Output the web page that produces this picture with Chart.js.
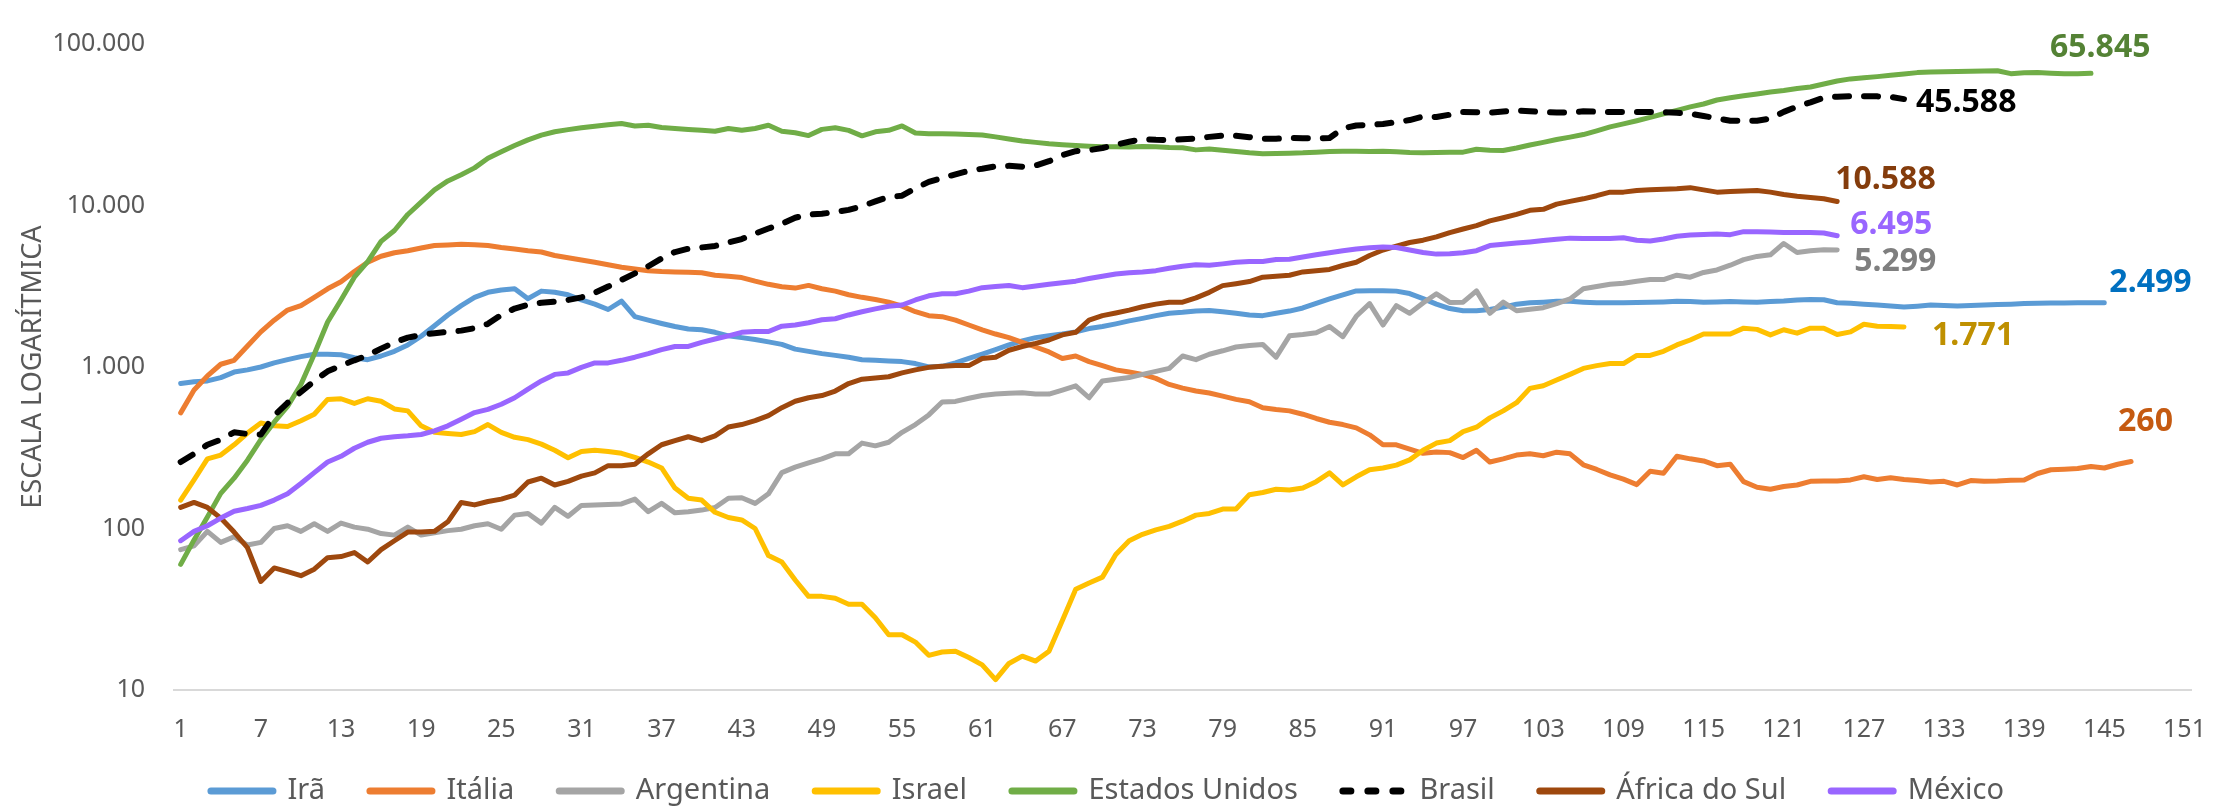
<!DOCTYPE html>
<html><head><meta charset="utf-8">
<script src="https://cdn.jsdelivr.net/npm/chart.js@4.4.1/dist/chart.umd.min.js"></script>
<style>html,body{margin:0;padding:0;background:#fff;}canvas{display:block;}</style>
</head><body>
<canvas id="c" width="2231" height="807"></canvas>
<script>
const FONT = '"Noto Sans", "Open Sans", sans-serif';

// categories (days 1..151) and tick labels
const categories = Array.from({length: 151}, (_, i) => String(i + 1));
const xTickLabels = ['1','7','13','19','25','31','37','43','49','55','61','67','73','79','85','91','97','103','109','115','121','127','133','139','145','151'];
const yTickValues = [10, 100, 1000, 10000, 100000];
const yTickLabels = ['10', '100', '1.000', '10.000', '100.000'];

const seriesNames = ['Irã','Itália','Argentina','Israel','Estados Unidos','Brasil','África do Sul','México'];

const iran = [790,810,820,860,930,960,1000,1060,1110,1160,
1200,1200,1190,1140,1110,1170,1250,1370,1550,1800,
2100,2400,2700,2900,3000,3050,2650,2950,2900,2800,
2600,2450,2270,2560,2050,1950,1860,1780,1720,1700,
1640,1560,1520,1480,1430,1380,1290,1250,1210,1180,
1150,1110,1100,1090,1080,1050,1000,1010,1060,1130,
1200,1280,1370,1450,1520,1560,1600,1650,1730,1780,
1850,1930,2000,2080,2150,2180,2220,2240,2200,2150,
2100,2080,2150,2220,2320,2480,2640,2800,2960,2970,
2970,2950,2850,2650,2450,2300,2230,2230,2270,2350,
2450,2500,2520,2550,2550,2520,2500,2500,2500,2510,
2520,2530,2550,2540,2520,2530,2540,2530,2520,2540,
2560,2600,2620,2610,2500,2480,2450,2420,2390,2350,
2380,2420,2400,2390,2400,2420,2440,2450,2470,2480,
2490,2490,2495,2498,2499];

const italia = [520,720,880,1040,1100,1350,1650,1950,2250,2400,
2700,3050,3370,3900,4450,4850,5100,5250,5450,5650,
5700,5750,5720,5650,5500,5380,5250,5150,4900,4750,
4600,4450,4300,4150,4050,3950,3900,3880,3860,3830,
3700,3650,3580,3400,3250,3140,3080,3200,3050,2950,
2800,2700,2620,2520,2380,2200,2080,2050,1950,1820,
1700,1600,1520,1420,1330,1240,1130,1170,1080,1020,
960,930,900,850,780,740,710,690,660,630,
610,560,545,535,510,480,455,440,420,380,
330,330,310,292,298,295,275,305,258,270,
285,290,282,297,290,248,232,215,202,187,
226,220,280,270,262,245,250,195,180,175,
182,186,196,197,197,200,209,201,206,201,
198,194,196,186,198,196,197,199,200,219,
231,233,235,242,237,250,260];

const argentina = [74,78,96,82,89,79,82,100,104,96,
107,96,108,102,99,93,91,102,91,94,
97,99,104,107,99,121,124,108,135,119,
139,140,141,142,152,127,143,125,127,130,
135,154,155,143,164,222,240,255,270,290,
290,338,325,342,394,440,505,607,612,640,
666,680,688,693,680,680,720,765,645,820,
840,860,900,940,980,1170,1110,1200,1260,1330,
1360,1380,1150,1560,1590,1630,1780,1540,2060,2470,
1820,2400,2150,2490,2840,2510,2520,2960,2150,2520,
2230,2280,2330,2470,2640,3050,3150,3250,3300,3400,
3480,3480,3700,3600,3850,3990,4270,4620,4840,4950,
5820,5120,5250,5320,5299];

const israel = [150,200,270,285,330,390,450,432,428,465,
510,630,636,595,636,614,550,535,432,394,
388,382,398,440,394,367,355,333,305,274,
300,305,300,292,276,258,237,178,154,150,
126,117,113,100,68,62,48,38,38,37,
34,34,28,22,22,19.8,16.4,17.2,17.4,15.9,
14.3,11.6,14.6,16.2,15.1,17.4,26.9,42,46,50,
69,84,92,98,103,111,121,124,132,132,
162,167,175,173,178,195,221,186,209,231,
237,247,266,305,338,350,398,424,484,535,
601,737,765,830,900,980,1020,1050,1050,1180,
1180,1250,1370,1470,1600,1600,1600,1740,1710,1580,
1700,1620,1740,1740,1590,1650,1840,1790,1780,1771];

const eua = [60,85,118,165,205,265,355,455,570,780,
1200,1900,2600,3600,4500,6000,7000,8800,10500,12500,
14200,15500,17100,19600,21500,23500,25500,27300,28600,29500,
30300,31000,31600,32200,31100,31400,30400,30000,29600,29200,
28800,30000,29200,30000,31400,28800,28200,27100,29600,30300,
29200,27000,28600,29200,31100,28100,27800,27800,27700,27500,
27300,26600,25800,25100,24600,24100,23800,23500,23300,23100,
23100,23000,23200,23100,22900,22800,22100,22400,22000,21600,
21200,20900,21000,21100,21200,21400,21600,21700,21700,21600,
21700,21500,21300,21200,21300,21400,21400,22300,22000,21900,
22700,23700,24600,25600,26500,27500,29000,30700,32000,33500,
35100,37000,38800,40800,42500,45000,46500,47800,49000,50400,
51500,53000,54200,56500,59000,60800,61800,62800,64000,65200,
66500,67000,67300,67600,67800,68000,68300,65500,66300,66600,
66000,65400,65500,65845];

const brasil = [258,290,330,355,394,385,382,500,600,700,
820,940,1020,1100,1180,1300,1420,1520,1580,1620,
1650,1680,1740,1850,2100,2300,2430,2500,2540,2600,
2700,2880,3150,3460,3800,4200,4700,5150,5400,5500,
5620,5900,6200,6700,7200,7700,8400,8800,8900,9100,
9400,9900,10600,11300,11500,12800,14000,14800,15600,16400,
16900,17500,17600,17400,17700,18800,20500,21700,22000,22700,
23800,24800,25800,25500,25400,25700,26000,26600,27100,27000,
26500,25900,25900,26200,26100,26000,26200,30000,31300,31600,
32000,32800,33800,35600,35300,36500,37900,37800,37600,38200,
38800,38400,37900,37700,37600,38300,38100,37900,37900,37900,
37900,37800,37500,37000,35800,34700,33500,33400,33500,34500,
38000,41000,43500,46500,47200,47500,47500,47400,47000,45588];

const africaSul = [135,145,135,116,95,76,47,57,54,51,
56,66,67,71,62,74,84,95,95,96,
110,145,140,147,152,161,194,205,186,196,
211,221,245,245,250,290,330,350,370,350,
375,425,440,465,500,560,614,645,666,710,
790,840,855,870,919,960,995,1010,1020,1020,
1130,1150,1270,1340,1400,1470,1580,1640,1950,2080,
2160,2250,2360,2450,2520,2520,2680,2900,3190,3280,
3380,3600,3650,3700,3880,3950,4020,4250,4450,4900,
5300,5600,5900,6100,6400,6800,7150,7500,8030,8400,
8810,9330,9470,10200,10600,11000,11500,12100,12100,12400,
12500,12600,12700,12900,12500,12100,12200,12300,12400,12100,
11700,11400,11200,11000,10588];

const mexico = [84,96,104,116,128,133,139,150,164,190,
222,258,280,314,342,362,370,375,382,402,
432,474,522,547,588,645,730,820,900,919,
995,1060,1060,1100,1150,1210,1280,1340,1340,1420,
1490,1560,1640,1660,1660,1790,1820,1880,1960,1990,
2100,2200,2290,2380,2420,2600,2760,2840,2840,2950,
3100,3150,3200,3100,3170,3250,3320,3400,3530,3650,
3770,3830,3880,3950,4090,4200,4290,4260,4350,4450,
4500,4500,4630,4650,4800,4950,5100,5250,5380,5480,
5530,5500,5300,5120,5000,5020,5100,5250,5650,5750,
5850,5950,6070,6180,6280,6250,6240,6240,6320,6100,
6030,6200,6450,6560,6620,6650,6600,6890,6890,6850,
6800,6800,6800,6750,6495];

const seriesData = [iran, italia, argentina, israel, eua, brasil, africaSul, mexico];

// styling
const seriesColors = ['#5B9BD5','#ED7D31','#A5A5A5','#FFC000','#70AD47','#000000','#9E480E','#9966FF'];
const labelColors  = ['#0070C0','#C55A11','#7F7F7F','#BF9000','#548235','#000000','#843C0C','#9966FF'];
const labelOffsets = [[5,-22.5],[-13,-42],[17,9],[28,6.5],[-41,-27.6],[12,1],[-2,-23.5],[13,-13.5]];
const DASHED = 5;
const LEGEND_PAD = 45;
const LEGEND_FONT = 29;
const LEGEND_CENTER_Y = 791;

function fmt(v) { return String(Math.round(v)).replace(/\B(?=(\d{3})+(?!\d))/g, '.'); }

const endLabelPlugin = {
  id: 'endLabels',
  afterDatasetsDraw(chart) {
    const ctx = chart.ctx;
    ctx.save();
    ctx.font = 'bold 32px ' + FONT;
    ctx.textAlign = 'left';
    ctx.textBaseline = 'alphabetic';
    chart.data.datasets.forEach((ds, i) => {
      const meta = chart.getDatasetMeta(i);
      const pt = meta.data[meta.data.length - 1];
      if (!pt) return;
      ctx.fillStyle = labelColors[i];
      ctx.fillText(fmt(ds.data[ds.data.length - 1]), pt.x + labelOffsets[i][0], pt.y + labelOffsets[i][1] + 11.5);
    });
    ctx.restore();
  }
};

// move the legend row up so its text sits where the reference has it
const legendPlacePlugin = {
  id: 'legendPlace',
  afterLayout(chart) {
    const lg = chart.legend;
    if (!lg) return;
    lg.top = LEGEND_CENTER_Y - LEGEND_FONT / 2 - LEGEND_PAD;
    lg.height = lg.bottom - lg.top;
  }
};

new Chart(document.getElementById('c'), {
  type: 'line',
  data: {
    labels: categories,
    datasets: seriesData.map((d, i) => ({
      label: seriesNames[i],
      data: d,
      borderColor: seriesColors[i],
      backgroundColor: seriesColors[i],
      borderWidth: i === DASHED ? 6 : 5,
      borderDash: i === DASHED ? [14, 15] : [],
      borderCapStyle: 'round',
      borderJoinStyle: 'round',
      pointRadius: 0,
      pointHoverRadius: 0,
      tension: 0,
      fill: false,
      order: seriesData.length - 1 - i
    }))
  },
  options: {
    responsive: false,
    animation: false,
    devicePixelRatio: 1,
    layout: { padding: { top: 38, right: 16, left: 0, bottom: 0 } },
    plugins: {
      tooltip: { enabled: false },
      legend: {
        position: 'bottom',
        maxHeight: 57,
        labels: {
          usePointStyle: true,
          pointStyle: 'line',
          pointStyleWidth: 62,
          padding: LEGEND_PAD,
          color: '#595959',
          font: { family: FONT, size: LEGEND_FONT },
          generateLabels: chart => chart.data.datasets.map((ds, i) => ({
            text: ds.label,
            strokeStyle: ds.borderColor,
            fillStyle: ds.borderColor,
            fontColor: '#595959',
            lineWidth: 7,
            lineCap: 'round',
            lineDash: i === DASHED ? [8, 17] : [],
            pointStyle: 'line',
            hidden: false,
            datasetIndex: i
          }))
        }
      }
    },
    scales: {
      x: {
        type: 'category',
        offset: true,
        grid: { display: false, drawTicks: false },
        border: { display: true, color: '#D9D9D9', width: 2 },
        ticks: { autoSkip: false, maxRotation: 0, padding: 25, color: '#595959', font: { family: FONT, size: 25 } },
        afterBuildTicks: s => { s.ticks = s.ticks.filter(t => xTickLabels.includes(categories[t.value])); },
        afterFit: s => { s.height = 60; }
      },
      y: {
        type: 'logarithmic',
        min: 10,
        max: 100000,
        grid: { display: false, drawTicks: false },
        border: { display: false },
        ticks: {
          padding: 29, color: '#595959', font: { family: FONT, size: 25 },
          callback: v => { const k = yTickValues.indexOf(v); return k >= 0 ? yTickLabels[k] : ''; }
        },
        afterBuildTicks: s => { s.ticks = yTickValues.map(v => ({ value: v })); },
        title: { display: true, text: 'ESCALA LOGARÍTMICA', color: '#595959', font: { family: FONT, size: 27 }, padding: { top: 17, bottom: 0 } },
        afterFit: s => { s.width = 174; }
      }
    }
  },
  plugins: [endLabelPlugin, legendPlacePlugin]
});
</script>
</body></html>
